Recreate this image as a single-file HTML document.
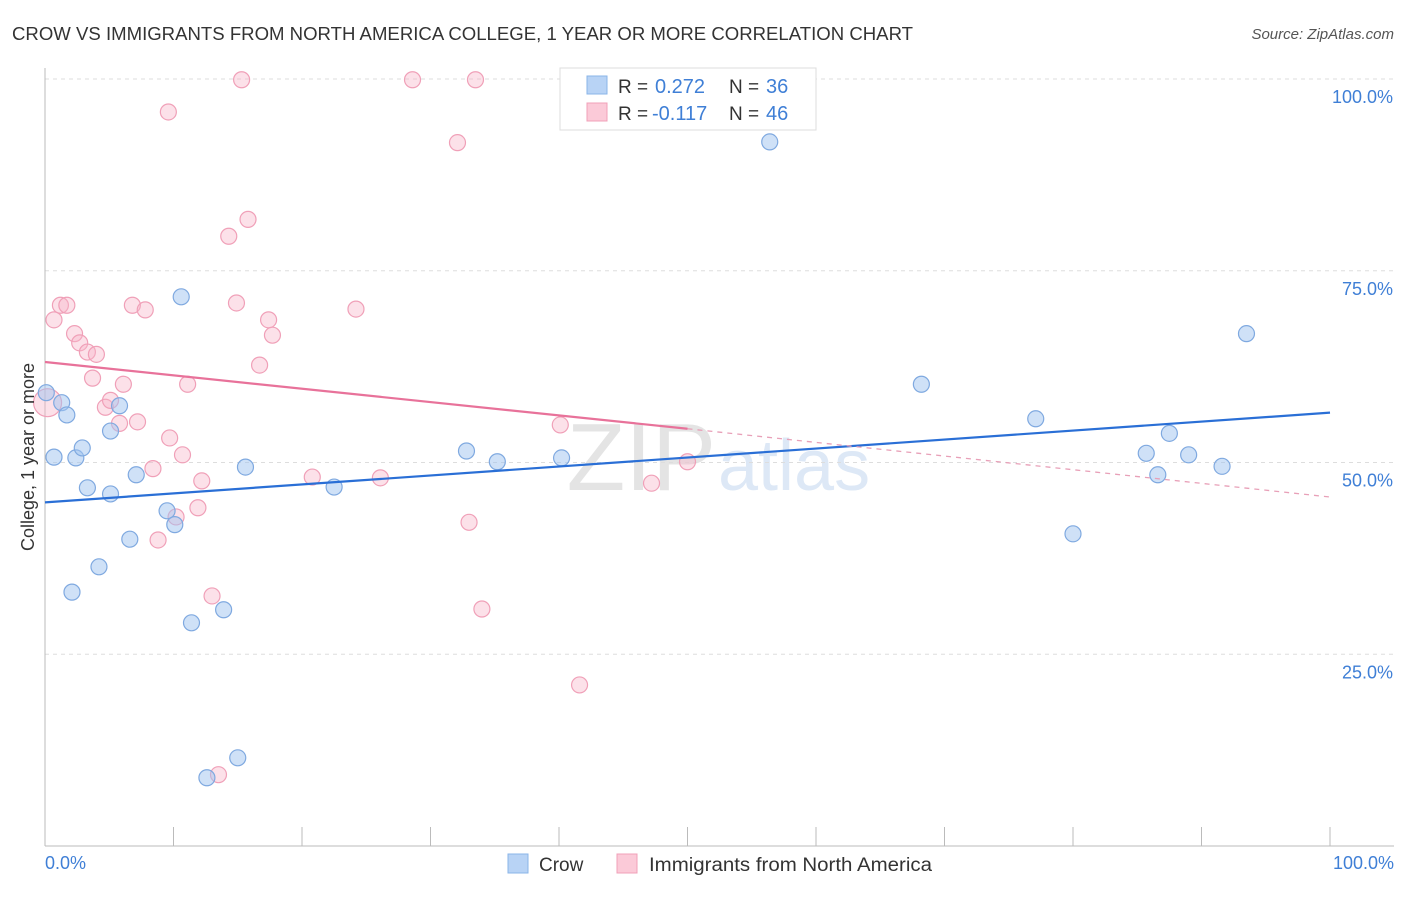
<!DOCTYPE html>
<html><head><meta charset="utf-8"><style>
body{margin:0;background:#fff;font-family:"Liberation Sans",sans-serif;}
svg text{font-family:"Liberation Sans",sans-serif;}
</style></head><body>
<svg id="chart" width="1406" height="892">
<text x="12" y="40" font-size="18" fill="#333" textLength="901" lengthAdjust="spacingAndGlyphs">CROW VS IMMIGRANTS FROM NORTH AMERICA COLLEGE, 1 YEAR OR MORE CORRELATION CHART</text>
<text x="1394" y="39" font-size="15" fill="#555" font-style="italic" text-anchor="end">Source: ZipAtlas.com</text>
<text x="716" y="490" font-size="96" fill="#e4e4e4" text-anchor="end" font-family="Liberation Serif">ZIP</text>
<text x="718" y="490" font-size="72" fill="#dde8f6">atlas</text>
<g id="grid"></g>
<g id="axes"></g>
<g id="pts"></g>
<g id="trend"></g>
<text transform="translate(34,457) rotate(-90)" font-size="18" fill="#333" text-anchor="middle">College, 1 year or more</text>
<text x="45" y="869" font-size="18" fill="#3f7fd6">0.0%</text>
<text x="1394" y="869" font-size="18" fill="#3f7fd6" text-anchor="end">100.0%</text>
<g>
<rect x="560" y="68" width="256" height="62" fill="#fff" stroke="#ddd"/>
<rect x="587" y="76" width="20" height="18" fill="#b8d3f5" stroke="#8ab4e8"/>
<rect x="587" y="103" width="20" height="18" fill="#fbcad8" stroke="#f0a0b8"/>
<text x="618" y="93" font-size="19" fill="#333">R =</text>
<text x="655" y="93" font-size="20" fill="#3f7fd6">0.272</text>
<text x="729" y="93" font-size="19" fill="#333">N =</text>
<text x="766" y="93" font-size="20" fill="#3f7fd6">36</text>
<text x="618" y="120" font-size="19" fill="#333">R =</text>
<text x="652" y="120" font-size="20" fill="#3f7fd6">-0.117</text>
<text x="729" y="120" font-size="19" fill="#333">N =</text>
<text x="766" y="120" font-size="20" fill="#3f7fd6">46</text>
</g>
<g>
<rect x="508" y="854" width="20" height="19" fill="#b8d3f5" stroke="#8ab4e8"/>
<text x="539" y="871" font-size="19" fill="#333">Crow</text>
<rect x="617" y="854" width="20" height="19" fill="#fbcad8" stroke="#f0a0b8"/>
<text x="649" y="871" font-size="19" fill="#333" textLength="283" lengthAdjust="spacingAndGlyphs">Immigrants from North America</text>
</g>
</svg>
<script>
const crowX=[0.1,1.3,1.7,0.7,2.4,2.9,3.3,5.1,5.1,5.8,7.1,10.6,6.6,4.2,2.1,9.5,10.1,11.4,13.9,15.6,22.5,32.8,35.2,40.2,56.4,68.2,77.1,80.0,85.7,86.6,87.5,89.0,91.6,93.5,15.0,12.6];
const crowY=[59.1,57.8,56.2,50.7,50.6,51.9,46.7,45.9,54.1,57.4,48.4,71.6,40.0,36.4,33.1,43.7,41.9,29.1,30.8,49.4,46.8,51.5,50.1,50.6,91.8,60.2,55.7,40.7,51.2,48.4,53.8,51.0,49.5,66.8,11.5,8.9];
const imX=[0.2,0.7,1.2,1.7,2.3,2.7,3.3,4.0,3.7,4.7,5.1,5.8,6.1,6.8,7.8,7.2,8.4,8.8,9.7,10.2,10.7,11.1,11.9,12.2,13.0,14.3,15.8,15.3,9.6,14.9,17.4,17.7,16.7,20.8,24.2,26.1,28.6,33.5,32.1,33.0,34.0,40.1,41.6,47.2,50.0,13.5];
const imY=[57.8,68.6,70.5,70.5,66.8,65.6,64.4,64.1,61.0,57.2,58.1,55.1,60.2,70.5,69.9,55.3,49.2,39.9,53.2,42.9,51.0,60.2,44.1,47.6,32.6,79.5,81.7,99.9,95.7,70.8,68.6,66.6,62.7,48.1,70.0,48.0,99.9,99.9,91.7,42.2,30.9,54.9,21.0,47.3,50.1,9.3];
const yTicks=[25,50,75,100];
const yTickLabels=["25.0%","50.0%","75.0%","100.0%"];
const xTicks=[0,10,20,30,40,50,60,70,80,90,100];
const crowTrend=[[0,44.8],[100,56.5]];
const imTrendSolid=[[0,63.1],[50,54.4]];
const imTrendDash=[[50,54.4],[100,45.5]];

const NS="http://www.w3.org/2000/svg";
const xs=v=>45+v*12.85, ys=v=>846-v*7.67;
function mk(parent,tag,attrs){const e=document.createElementNS(NS,tag);for(const k in attrs)e.setAttribute(k,attrs[k]);document.getElementById(parent).appendChild(e);return e;}
yTicks.forEach((t,i)=>{
  const l=mk('grid','line',{x1:45,x2:1394,y1:ys(t),y2:ys(t),stroke:'#ddd','stroke-dasharray':'4,4'});
  
  
  const tx=mk('grid','text',{x:1393,y:ys(t)+24,'font-size':18,fill:'#3f7fd6','text-anchor':'end'});
  tx.textContent=yTickLabels[i];
  
  
});
const ax=mk('axes','line',{x1:45,x2:45,y1:68,y2:846,stroke:'#bbb'});


const bx=mk('axes','line',{x1:45,x2:1394,y1:846,y2:846,stroke:'#bbb'});


xTicks.forEach(t=>{
  const l=mk('axes','line',{x1:xs(t),x2:xs(t),y1:827,y2:846,stroke:'#bbb'});
  
  
});
imX.forEach((v,i)=>{
  const c=mk('pts','circle',{cx:xs(v),cy:ys(imY[i]),r:i===0?14:8,fill:'rgba(248,180,200,0.4)',stroke:'#f0a0b8','stroke-width':1.2});
  
  
});
crowX.forEach((v,i)=>{
  const c=mk('pts','circle',{cx:xs(v),cy:ys(crowY[i]),r:8,fill:'rgba(160,196,240,0.5)',stroke:'#7fa9e0','stroke-width':1.2});
  
  
});
function seg(d,color,dash,w,name){
  const l=mk('trend','line',{x1:xs(d[0][0]),y1:ys(d[0][1]),x2:xs(d[1][0]),y2:ys(d[1][1]),stroke:color,'stroke-width':w});
  if(dash)l.setAttribute('stroke-dasharray',dash);
  
  
}
seg(crowTrend,'#2a6fd6',null,2.2,'crow-trend-line');
seg(imTrendSolid,'#e8729a',null,2.2,'immigrants-trend-line');
seg(imTrendDash,'#e8a0b8','5,5',1.3,'immigrants-trend-extension');
</script>
</body></html>
